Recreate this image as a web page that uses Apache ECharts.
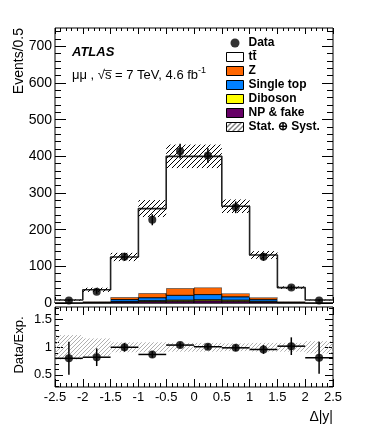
<!DOCTYPE html>
<html><head><meta charset="utf-8">
<script src="https://cdn.jsdelivr.net/npm/echarts@6/dist/echarts.min.js"></script>
<style>html,body{margin:0;padding:0;background:#fff}#c{width:390px;height:440px}</style>
</head><body><div id="c"></div>
<script>
// ---- data ----
const binEdges   = [-2.5, -2, -1.5, -1, -0.5, 0, 0.5, 1, 1.5, 2, 2.5];
const ttbar      = [6, 32, 110, 231, 360, 358, 238, 116, 38, 6];
const zjets      = [0.7, 1.5, 6, 12, 19, 19, 9, 5, 1.5, 0.7];
const singleTop  = [0.5, 1, 5, 8, 13, 14, 9, 5, 1, 0.5];
const diboson    = [0.3, 0.5, 1.5, 2.5, 3, 3, 3, 2, 0.5, 0.3];
const npFake     = [0.5, 1, 3, 4, 5, 6, 5, 3, 1, 0.5];
const dataVals   = [7, 31, 126, 227, 414, 402, 261, 126, 42, 7];
const dataErr    = [3, 6, 11, 15, 20, 20, 16, 11, 6, 3];
const ratioVals  = [0.80, 0.82, 1.00, 0.87, 1.04, 1.01, 0.99, 0.96, 1.02, 0.81];
const ratioErr   = [0.30, 0.16, 0.08, 0.06, 0.05, 0.05, 0.06, 0.08, 0.16, 0.29];
const bandRel    = [0.22, 0.16, 0.09, 0.09, 0.08, 0.08, 0.07, 0.08, 0.08, 0.11];
const yMainTicks = [0, 100, 200, 300, 400, 500, 600, 700];
const yRatioTicks = [0.5, 1, 1.5];
const legendNames = ['Data', 'tt\u0304', 'Z', 'Single top', 'Diboson', 'NP & fake', 'Stat. \u2295 Syst.'];

// ---- helpers ----
const FONT = 'Liberation Sans';
const nb = ttbar.length;
const idx = [...Array(nb).keys()];
const centers = idx.map(i => (binEdges[i] + binEdges[i + 1]) / 2);
const comps = [npFake, diboson, singleTop, zjets, ttbar];
const compNames = ['NP & fake', 'Diboson', 'Single top', 'Z', 'tt\u0304'];
const compColors = ['#660066', '#ffff00', '#0080ff', '#ff6600', '#ffffff'];
const cum = [idx.map(() => 0)];
comps.forEach((c, k) => cum.push(idx.map(i => cum[k][i] + c[i])));
const total = cum[comps.length];

function hatch(color, size, lw) {
  const c = document.createElement('canvas');
  c.width = size; c.height = size;
  const g = c.getContext('2d');
  g.strokeStyle = color; g.lineWidth = lw;
  g.beginPath();
  for (let k = -1; k <= 1; k++) { g.moveTo(k * size, size); g.lineTo(k * size + size, 0); }
  g.stroke();
  return { image: c, repeat: 'repeat' };
}
const hatchBlack = hatch('#000', 5, 1);
const hatchGray = hatch('#b0b0b0', 4, 1);

function rectItem(api, style) {
  const a = api.coord([api.value(0), api.value(3)]);
  const b = api.coord([api.value(1), api.value(2)]);
  return { type: 'rect', shape: { x: a[0], y: a[1], width: b[0] - a[0], height: b[1] - a[1] }, style };
}

const minorMain = [];
for (let v = 20; v < 750; v += 20) if (v % 100 !== 0) minorMain.push(v);
const minorRatio = [];
for (let k = 3; k <= 17; k++) if (k % 5 !== 0) minorRatio.push(k / 10);

function xAx(grid, pos, showLabel, len) {
  return {
    type: 'value', gridIndex: grid, position: pos, min: -2.5, max: 2.5, interval: 0.5,
    axisLine: { show: false, onZero: false }, splitLine: { show: false },
    axisTick: { show: true, inside: true, length: len, lineStyle: { color: '#000' } },
    minorTick: { show: true, splitNumber: 5, length: len / 2, lineStyle: { color: '#000' } },
    axisLabel: { show: showLabel, margin: 4, color: '#000', fontSize: 13, fontFamily: FONT,
      formatter: v => String(Math.round(v * 10) / 10) }
  };
}
function yAx(grid, pos, min, max, ticks, len, showLabel, fs) {
  return {
    type: 'value', gridIndex: grid, position: pos, min, max,
    axisLine: { show: false, onZero: false }, splitLine: { show: false },
    axisTick: { show: true, inside: true, length: len, customValues: ticks, lineStyle: { color: '#000' } },
    axisLabel: { show: showLabel, customValues: ticks, margin: 3, color: '#000', fontSize: fs, fontFamily: FONT,
      formatter: v => String(v) }
  };
}

const series = [];
comps.forEach((c, k) => {
  series.push({
    type: 'custom', name: compNames[k], xAxisIndex: 0, yAxisIndex: 0, z: 2,
    itemStyle: { color: compColors[k] },
    data: idx.map(i => [binEdges[i], binEdges[i + 1], cum[k][i], cum[k + 1][i]]),
    renderItem: (p, api) => rectItem(api, k < 4
      ? { fill: compColors[k], stroke: '#000', lineWidth: 0.8 }
      : { fill: compColors[k] })
  });
});
series.push({
  type: 'line', name: 'total', xAxisIndex: 0, yAxisIndex: 0, step: 'end', symbol: 'none', z: 3,
  data: idx.map(i => [binEdges[i], total[i]]).concat([[binEdges[nb], total[nb - 1]]]),
  lineStyle: { color: '#222', width: 1.6 }
});
series.push({
  type: 'custom', name: legendNames[6], xAxisIndex: 0, yAxisIndex: 0, z: 4,
  itemStyle: { color: hatchBlack },
  data: idx.map(i => [binEdges[i], binEdges[i + 1], total[i] * (1 - bandRel[i]), total[i] * (1 + bandRel[i])]),
  renderItem: (p, api) => rectItem(api, { fill: hatchBlack })
});
series.push({
  type: 'custom', name: 'dataErr', xAxisIndex: 0, yAxisIndex: 0, z: 5,
  data: idx.map(i => [centers[i], dataVals[i] - dataErr[i], dataVals[i] + dataErr[i]]),
  renderItem: (p, api) => {
    const a = api.coord([api.value(0), api.value(1)]), b = api.coord([api.value(0), api.value(2)]);
    return { type: 'line', shape: { x1: a[0], y1: a[1], x2: b[0], y2: b[1] }, style: { stroke: '#000', lineWidth: 1.5 } };
  }
});
series.push({
  type: 'scatter', name: 'Data', xAxisIndex: 0, yAxisIndex: 0, z: 6, symbol: 'circle', symbolSize: 8,
  itemStyle: { color: '#000' },
  data: idx.map(i => [centers[i], dataVals[i]])
});
// ratio panel
series.push({
  type: 'custom', name: 'ratioBand', xAxisIndex: 2, yAxisIndex: 4, z: 2,
  data: idx.map(i => [binEdges[i], binEdges[i + 1], 1 - bandRel[i], 1 + bandRel[i]]),
  renderItem: (p, api) => rectItem(api, { fill: hatchGray })
});
series.push({
  type: 'custom', name: 'ratioErr', xAxisIndex: 2, yAxisIndex: 4, z: 5,
  data: idx.map(i => [binEdges[i], binEdges[i + 1], centers[i], ratioVals[i], ratioErr[i]]),
  renderItem: (p, api) => {
    const y = api.value(3), e = api.value(4), xc = api.value(2);
    const l = api.coord([api.value(0), y]), r = api.coord([api.value(1), y]);
    const t = api.coord([xc, y + e]), b = api.coord([xc, y - e]);
    return { type: 'group', children: [
      { type: 'line', shape: { x1: l[0], y1: l[1], x2: r[0], y2: r[1] }, style: { stroke: '#000', lineWidth: 1.5 } },
      { type: 'line', shape: { x1: t[0], y1: t[1], x2: b[0], y2: b[1] }, style: { stroke: '#000', lineWidth: 1.5 } }
    ] };
  }
});
series.push({
  type: 'scatter', name: 'ratioPts', xAxisIndex: 2, yAxisIndex: 4, z: 6, symbol: 'circle', symbolSize: 8,
  itemStyle: { color: '#000' },
  data: idx.map(i => [centers[i], ratioVals[i]])
});

const option = {
  animation: false,
  backgroundColor: '#fff',
  grid: [
    { left: 55, top: 28, width: 278, height: 275, show: true, borderColor: '#000', borderWidth: 1, backgroundColor: 'transparent' },
    { left: 55, top: 307, width: 278, height: 80, show: true, borderColor: '#000', borderWidth: 1, backgroundColor: 'transparent' }
  ],
  xAxis: [xAx(0, 'bottom', false, 6), xAx(0, 'top', false, 6), xAx(1, 'bottom', true, 8), xAx(1, 'top', false, 8)],
  yAxis: [
    yAx(0, 'left', 0, 750, yMainTicks, 11, true, 14),
    yAx(0, 'left', 0, 750, minorMain, 6, false, 14),
    yAx(0, 'right', 0, 750, yMainTicks, 11, false, 14),
    yAx(0, 'right', 0, 750, minorMain, 6, false, 14),
    yAx(1, 'left', 0.28, 1.73, yRatioTicks, 8, true, 13),
    yAx(1, 'left', 0.28, 1.73, minorRatio, 4, false, 13),
    yAx(1, 'right', 0.28, 1.73, yRatioTicks, 8, false, 13),
    yAx(1, 'right', 0.28, 1.73, minorRatio, 4, false, 13)
  ],
  legend: {
    orient: 'vertical', left: 226, top: 36, padding: 0, itemWidth: 17, itemHeight: 9, itemGap: 0,
    selectedMode: false,
    textStyle: { fontFamily: FONT, fontWeight: 'bold', fontSize: 12, lineHeight: 14, color: '#000' },
    data: [
      { name: legendNames[0], icon: 'circle', itemStyle: { color: '#000', borderWidth: 0 } },
      { name: legendNames[1], icon: 'rect', itemStyle: { color: '#fff', borderColor: '#000', borderWidth: 1 } },
      { name: legendNames[2], icon: 'rect', itemStyle: { color: compColors[3], borderColor: '#000', borderWidth: 1 } },
      { name: legendNames[3], icon: 'rect', itemStyle: { color: compColors[2], borderColor: '#000', borderWidth: 1 } },
      { name: legendNames[4], icon: 'rect', itemStyle: { color: compColors[1], borderColor: '#000', borderWidth: 1 } },
      { name: legendNames[5], icon: 'rect', itemStyle: { color: compColors[0], borderColor: '#000', borderWidth: 1 } },
      { name: legendNames[6], icon: 'rect', itemStyle: { color: hatchBlack, borderColor: '#000', borderWidth: 1 } }
    ]
  },
  graphic: [
    { type: 'text', x: 19, y: 28, rotation: Math.PI / 2,
      style: { text: 'Events/0.5', fill: '#000', font: '14px "Liberation Sans"', align: 'right', verticalAlign: 'middle', textAlign: 'right', textVerticalAlign: 'middle' } },
    { type: 'text', x: 19, y: 345, rotation: Math.PI / 2,
      style: { text: 'Data/Exp.', fill: '#000', font: '13px "Liberation Sans"', align: 'center', verticalAlign: 'middle', textAlign: 'center', textVerticalAlign: 'middle' } },
    { type: 'text', x: 333, y: 417,
      style: { text: '\u0394|y|', fill: '#000', font: '14px "Liberation Sans"', align: 'right', verticalAlign: 'middle', textAlign: 'right', textVerticalAlign: 'middle' } },
    { type: 'text', x: 72, y: 52,
      style: { text: 'ATLAS', fill: '#000', font: 'italic bold 13px "Liberation Sans"', align: 'left', verticalAlign: 'middle', textAlign: 'left', textVerticalAlign: 'middle' } },
    { type: 'text', x: 72, y: 74,
      style: { text: '{a|\u03bc\u03bc , \u221as\u0305 = 7 TeV, 4.6 fb}{s|-1}', fill: '#000', align: 'left', verticalAlign: 'middle', textAlign: 'left', textVerticalAlign: 'middle',
        rich: { a: { fontSize: 13, fontFamily: FONT, fill: '#000', lineHeight: 16, verticalAlign: 'bottom' },
                s: { fontSize: 9, fontFamily: FONT, fill: '#000', lineHeight: 16, verticalAlign: 'top' } } } }
  ],
  series
};
const chart = echarts.init(document.getElementById('c'));
chart.setOption(option);
</script>
</body></html>
